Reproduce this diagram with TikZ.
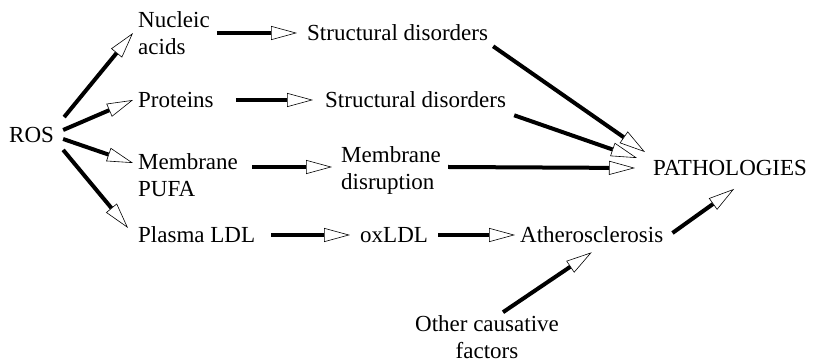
\documentclass[tikz,border=0pt]{standalone}
\usepackage{fontspec}
\setmainfont{Liberation Serif}
\usetikzlibrary{arrows.meta,positioning}

\begin{document}
\begin{tikzpicture}[x=1pt,y=1pt,
  every node/.style={inner sep=5pt,font=\fontsize{23}{27}\selectfont},
  arr/.style={line width=4pt,-{Triangle[length=26pt,width=14pt,fill=white,line width=0.6pt]}}]
\useasboundingbox (0,0) rectangle (815,361);
% left column
\node[anchor=west] (ros) at (4,226) {ROS};
\node[anchor=west,align=left] (nuc) at (133,328) {Nucleic\\acids};
\node[anchor=west] (prot) at (133,261) {Proteins};
\node[anchor=west,align=left] (pufa) at (133,186) {Membrane\\PUFA};
\node[anchor=west] (plasma) at (133,126) {Plasma LDL};
% middle column
\node[anchor=west] (sd1) at (302,328) {Structural disorders};
\node[anchor=west] (sd2) at (320,261) {Structural disorders};
\node[anchor=west,align=left] (disr) at (336,191) {Membrane\\disruption};
\node[anchor=west] (oxldl) at (355,126) {oxLDL};
\node[anchor=west] (ath) at (515,126) {Atherosclerosis};
\node[anchor=west] (path) at (648,193) {PATHOLOGIES};
\node[align=center] (other) at (487,24) {Other causative\\factors};

\draw[arr] ([shift={(5,5)}]ros.north east) -- (nuc.west);
\draw[arr] ([shift={(4,5)}]ros.east) -- (prot.west);
\draw[arr] ([shift={(4,-4)}]ros.east) -- ([yshift=12pt]pufa.west);
\draw[arr] ([shift={(4,-2)}]ros.south east) -- ([shift={(-5,7)}]plasma.west);

\draw[arr] ([xshift=2pt]nuc.east) -- ([xshift=-5pt]sd1.west);
\draw[arr] ([xshift=17pt]prot.east) -- ([xshift=-7pt]sd2.west);
\draw[arr] ([shift={(9,8)}]pufa.east) -- ([shift={(-4,3)}]disr.west);
\draw[arr] ([xshift=11pt]plasma.east) -- ([xshift=-5pt]oxldl.west);
\draw[arr] ([xshift=5pt]oxldl.east) -- (ath.west);

\draw[arr] (sd1.south east) -- ([shift={(-3,3)}]path.north west);
\draw[arr] ([shift={(3,-2)}]sd2.south east) -- ([shift={(-11,10)}]path.west);
\draw[arr] ([shift={(2,3)}]disr.east) -- ([xshift=-13pt]path.west);
\draw[arr] ([shift={(4,2)}]ath.east) -- ([shift={(4,-8)}]path.south);
\draw[arr] ([shift={(16,-2)}]other.north) -- ([yshift=-4pt]ath.south);
\end{tikzpicture}
\end{document}
